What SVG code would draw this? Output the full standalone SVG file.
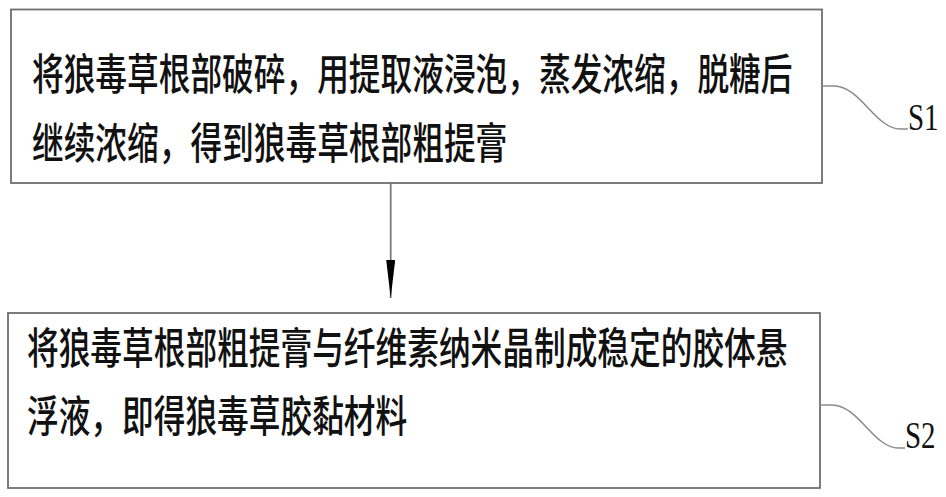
<svg xmlns="http://www.w3.org/2000/svg" width="946" height="497" viewBox="0 0 946 497">
<defs>
<style>
.box{fill:#fff;stroke:#6e6e6e;stroke-width:1.8}
.t{font-family:"Noto Sans CJK SC","Noto Sans CJK JP",sans-serif;font-size:31.7px;font-weight:500;fill:#111}
.lbl{font-family:"Liberation Serif","DejaVu Serif",serif;font-size:29px;fill:#111}
.lead{fill:none;stroke:#8a8a8a;stroke-width:1.5}
.conn{stroke:#7a7a7a;stroke-width:1.8;fill:none}
</style>
<marker id="arr" viewBox="0 0 38 9" markerWidth="38" markerHeight="9" refX="38" refY="4.5" orient="auto" markerUnits="userSpaceOnUse">
<path d="M0,0 L38,4.5 L0,9 z" fill="#000"/>
</marker>
</defs>
<rect width="946" height="497" fill="#fff"/>
<g id="connectors">
<line class="conn" x1="390.7" y1="183" x2="390.7" y2="298" marker-end="url(#arr)"/>
</g>
<g id="S1">
<rect class="box" x="11" y="9.5" width="811" height="173.5"/>
<text class="t" transform="translate(32,90) scale(1,1.35)">将狼毒草根部破碎，用提取液浸泡，蒸发浓缩，脱糖后</text>
<text class="t" transform="translate(32,159) scale(1,1.35)">继续浓缩，得到狼毒草根部粗提膏</text>
<path class="lead" d="M822,86 H834 C860,86 876,129 900,129 H908"/>
<text class="lbl" transform="translate(908,130) scale(1,1.3)">S1</text>
</g>
<g id="S2">
<rect class="box" x="8" y="313" width="812" height="175"/>
<text class="t" transform="translate(27,364) scale(1,1.35)">将狼毒草根部粗提膏与纤维素纳米晶制成稳定的胶体悬</text>
<text class="t" transform="translate(27,432) scale(1,1.35)">浮液，即得狼毒草胶黏材料</text>
<path class="lead" d="M820,405 H832 C858,405 874,448 898,448 H905"/>
<text class="lbl" transform="translate(905,448) scale(1,1.3)">S2</text>
</g>
</svg>
